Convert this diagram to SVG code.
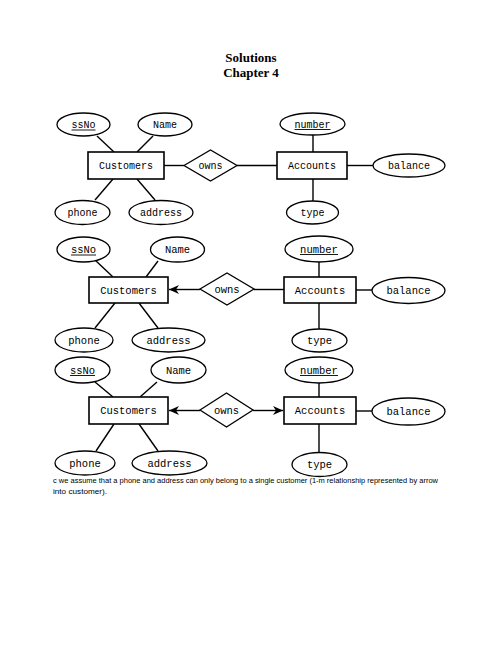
<svg xmlns="http://www.w3.org/2000/svg" width="502" height="649" viewBox="0 0 502 649">
<style>
.t{font-family:"Liberation Serif",serif;font-weight:bold;font-size:13px;text-anchor:middle;fill:#000}
.n{font-family:"Liberation Mono","DejaVu Sans Mono",monospace;font-size:10px;text-anchor:middle;fill:#000}
.n2{font-family:"Liberation Mono","DejaVu Sans Mono",monospace;font-size:10.5px;text-anchor:middle;fill:#000}
.s{fill:#fff;stroke:#000;stroke-width:1.3}
.r{fill:#fff;stroke:#000;stroke-width:1.6}
.e{stroke:#000;stroke-width:1.4;fill:none}
.u{stroke:#000;stroke-width:0.9}
.f{font-family:"Liberation Sans",Arial,sans-serif;font-size:7.3px;fill:#000}
</style>
<defs>
<marker id="ar" markerUnits="userSpaceOnUse" markerWidth="11" markerHeight="10" refX="10" refY="5" orient="auto">
<path d="M0,0.5 L10,5 L0,9.5 L3,5 z" fill="#000"/>
</marker>
</defs>
<rect width="502" height="649" fill="#fff"/>
<text class="t" x="251" y="62">Solutions</text>
<text class="t" x="251" y="77">Chapter 4</text>

<!-- connectors -->
<g id="connectors">
<!-- diagram 1 -->
<line class="e" x1="97" y1="136" x2="114" y2="152"/>
<line class="e" x1="153" y1="136" x2="137" y2="152"/>
<line class="e" x1="95" y1="200" x2="113" y2="179"/>
<line class="e" x1="155" y1="200" x2="137" y2="179"/>
<line class="e" x1="164" y1="165.5" x2="184" y2="165.5"/>
<line class="e" x1="237" y1="165.5" x2="277" y2="165.5"/>
<line class="e" x1="313" y1="135" x2="313" y2="152"/>
<line class="e" x1="347" y1="165.5" x2="373" y2="165.5"/>
<line class="e" x1="313" y1="179" x2="313" y2="201"/>
<!-- diagram 2 -->
<line class="e" x1="95" y1="260" x2="113" y2="277"/>
<line class="e" x1="158" y1="261" x2="146" y2="277"/>
<line class="e" x1="95" y1="328" x2="115" y2="303"/>
<line class="e" x1="158" y1="328" x2="139" y2="303"/>
<line class="e" x1="200" y1="289.5" x2="169" y2="289.5" marker-end="url(#ar)"/>
<line class="e" x1="254" y1="289.5" x2="284" y2="289.5"/>
<line class="e" x1="319" y1="262" x2="319" y2="277"/>
<line class="e" x1="356" y1="290" x2="372" y2="290"/>
<line class="e" x1="319" y1="303" x2="319" y2="329"/>
<!-- diagram 3 -->
<line class="e" x1="95" y1="382" x2="113" y2="397"/>
<line class="e" x1="157" y1="382" x2="140" y2="397"/>
<line class="e" x1="96" y1="451" x2="114" y2="424"/>
<line class="e" x1="158" y1="451" x2="139" y2="424"/>
<line class="e" x1="200" y1="410.5" x2="169" y2="410.5" marker-end="url(#ar)"/>
<line class="e" x1="253" y1="410.5" x2="283" y2="410.5" marker-end="url(#ar)"/>
<line class="e" x1="319" y1="383" x2="319" y2="397"/>
<line class="e" x1="356" y1="411" x2="372" y2="411"/>
<line class="e" x1="319" y1="424" x2="319" y2="453"/>
</g>

<!-- Diagram 1 -->
<g id="d1-ssNo"><ellipse class="s" cx="83.5" cy="124.5" rx="26.5" ry="11.5"/><text class="n" x="83.5" y="128">ssNo</text><line class="u" x1="71.5" y1="130" x2="95.5" y2="130"/></g>
<g id="d1-Name"><ellipse class="s" cx="165" cy="124.5" rx="27" ry="11.5"/><text class="n" x="165" y="128">Name</text></g>
<g id="d1-Customers"><rect class="r" x="88" y="152" width="76" height="27"/><text class="n" x="126" y="169">Customers</text></g>
<g id="d1-owns"><polygon class="s" points="184,165.5 210.5,150 237,165.5 210.5,181"/><text class="n" x="210.5" y="169">owns</text></g>
<g id="d1-phone"><ellipse class="s" cx="82.5" cy="212.5" rx="27.5" ry="12"/><text class="n" x="82.5" y="216">phone</text></g>
<g id="d1-address"><ellipse class="s" cx="161" cy="212.5" rx="32" ry="12"/><text class="n" x="161" y="216">address</text></g>
<g id="d1-number"><ellipse class="s" cx="312.5" cy="124" rx="32.5" ry="11"/><text class="n" x="312.5" y="127.5">number</text><line class="u" x1="294.5" y1="129.5" x2="330.5" y2="129.5"/></g>
<g id="d1-Accounts"><rect class="r" x="277" y="152" width="70" height="27"/><text class="n" x="312" y="169">Accounts</text></g>
<g id="d1-balance"><ellipse class="s" cx="409" cy="165.5" rx="36" ry="11.5"/><text class="n" x="409" y="169">balance</text></g>
<g id="d1-type"><ellipse class="s" cx="312.5" cy="212.5" rx="26" ry="11.5"/><text class="n" x="312.5" y="216">type</text></g>

<!-- Diagram 2 -->
<g id="d2-ssNo"><ellipse class="s" cx="83.5" cy="249.5" rx="26.5" ry="12.5"/><text class="n2" x="83.5" y="253">ssNo</text><line class="u" x1="71" y1="255" x2="96" y2="255"/></g>
<g id="d2-Name"><ellipse class="s" cx="177.5" cy="249.5" rx="27" ry="12.5"/><text class="n2" x="177.5" y="253">Name</text></g>
<g id="d2-Customers"><rect class="r" x="89" y="277" width="79" height="26"/><text class="n2" x="128.5" y="293.5">Customers</text></g>
<g id="d2-owns"><polygon class="s" points="200,289 227,273 254,289 227,305"/><text class="n2" x="227" y="292.5">owns</text></g>
<g id="d2-phone"><ellipse class="s" cx="84" cy="340" rx="29" ry="12"/><text class="n2" x="84" y="343.5">phone</text></g>
<g id="d2-address"><ellipse class="s" cx="168.5" cy="340" rx="36.5" ry="12"/><text class="n2" x="168.5" y="343.5">address</text></g>
<g id="d2-number"><ellipse class="s" cx="319" cy="249" rx="34" ry="13"/><text class="n2" x="319" y="252.5">number</text><line class="u" x1="300" y1="254.5" x2="338" y2="254.5"/></g>
<g id="d2-Accounts"><rect class="r" x="284" y="277" width="72" height="26"/><text class="n2" x="320" y="293.5">Accounts</text></g>
<g id="d2-balance"><ellipse class="s" cx="408.5" cy="290.5" rx="36.5" ry="13"/><text class="n2" x="408.5" y="294">balance</text></g>
<g id="d2-type"><ellipse class="s" cx="319.5" cy="340.5" rx="27.5" ry="11.5"/><text class="n2" x="319.5" y="344">type</text></g>

<!-- Diagram 3 -->
<g id="d3-ssNo"><ellipse class="s" cx="82.5" cy="370" rx="27.5" ry="13"/><text class="n2" x="82.5" y="373.5">ssNo</text><line class="u" x1="70" y1="375.5" x2="95" y2="375.5"/></g>
<g id="d3-Name"><ellipse class="s" cx="178.5" cy="370" rx="27.5" ry="13"/><text class="n2" x="178.5" y="373.5">Name</text></g>
<g id="d3-Customers"><rect class="r" x="89" y="397" width="79" height="27"/><text class="n2" x="128.5" y="414">Customers</text></g>
<g id="d3-owns"><polygon class="s" points="200,410 226.5,393 253,410 226.5,427"/><text class="n2" x="226.5" y="413.5">owns</text></g>
<g id="d3-phone"><ellipse class="s" cx="85" cy="463" rx="30" ry="12"/><text class="n2" x="85" y="466.5">phone</text></g>
<g id="d3-address"><ellipse class="s" cx="169.5" cy="463" rx="37.5" ry="12"/><text class="n2" x="169.5" y="466.5">address</text></g>
<g id="d3-number"><ellipse class="s" cx="319" cy="370" rx="34" ry="13"/><text class="n2" x="319" y="373.5">number</text><line class="u" x1="300" y1="375.5" x2="338" y2="375.5"/></g>
<g id="d3-Accounts"><rect class="r" x="284" y="397" width="72" height="27"/><text class="n2" x="320" y="414">Accounts</text></g>
<g id="d3-balance"><ellipse class="s" cx="408.5" cy="411.5" rx="36.5" ry="13.5"/><text class="n2" x="408.5" y="415">balance</text></g>
<g id="d3-type"><ellipse class="s" cx="319.5" cy="464.5" rx="27.5" ry="12"/><text class="n2" x="319.5" y="468">type</text></g>

<text class="f" x="53" y="483" textLength="385" lengthAdjust="spacingAndGlyphs">c we assume that a phone and address can only belong to a single customer (1-m relationship represented by arrow</text>
<text class="f" x="53" y="494" textLength="54" lengthAdjust="spacingAndGlyphs">into customer).</text>
</svg>
